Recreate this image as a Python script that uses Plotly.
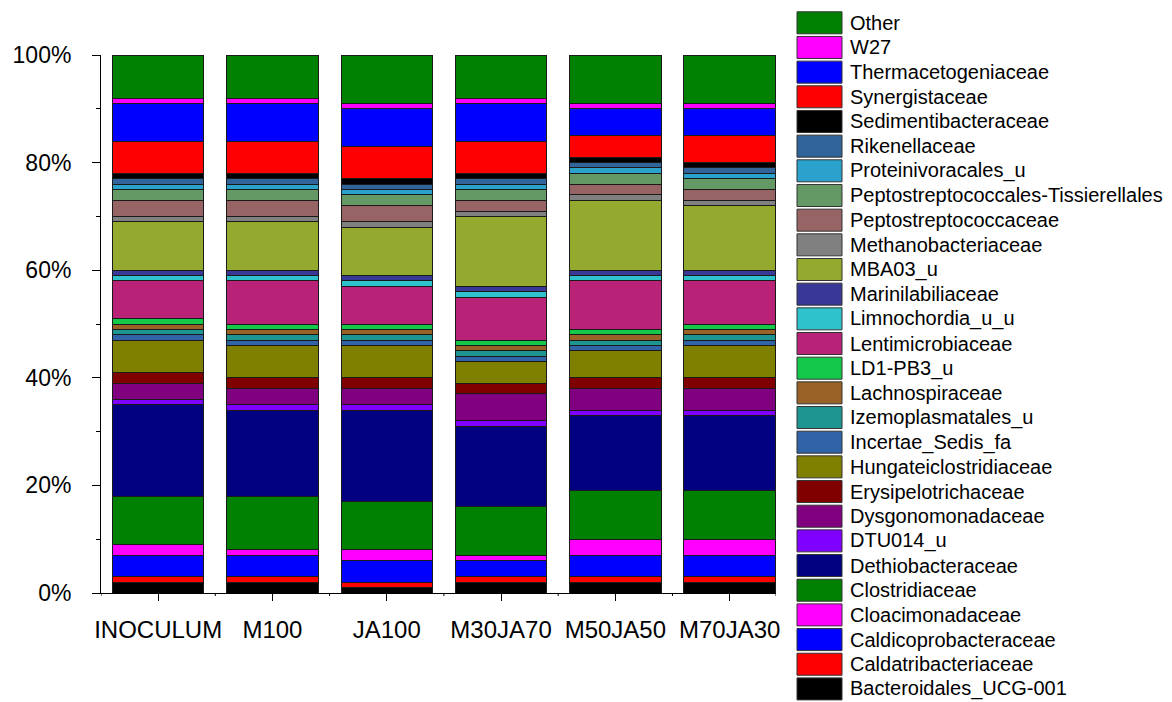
import plotly.graph_objects as go

# Samples (x categories)
samples = ["INOCULUM", "M100", "JA100", "M30JA70", "M50JA50", "M70JA30"]

# Families in stacking order (bottom -> top)
families = [
    "Bacteroidales_UCG-001", "Caldatribacteriaceae", "Caldicoprobacteraceae",
    "Cloacimonadaceae", "Clostridiaceae", "Dethiobacteraceae", "DTU014_u",
    "Dysgonomonadaceae", "Erysipelotrichaceae", "Hungateiclostridiaceae",
    "Incertae_Sedis_fa", "Izemoplasmatales_u", "Lachnospiraceae", "LD1-PB3_u",
    "Lentimicrobiaceae", "Limnochordia_u_u", "Marinilabiliaceae", "MBA03_u",
    "Methanobacteriaceae", "Peptostreptococcaceae",
    "Peptostreptococcales-Tissierellales", "Proteinivoracales_u",
    "Rikenellaceae", "Sedimentibacteraceae", "Synergistaceae",
    "Thermacetogeniaceae", "W27", "Other",
]

colors = [
    "#000000", "#FF0000", "#0000FF", "#FF00FF", "#008000", "#000080", "#8000FF",
    "#800080", "#800000", "#808000", "#3064A6", "#1F9592", "#996328", "#14C84A",
    "#B82378", "#2EC2CC", "#383896", "#94AA2F", "#808080", "#966464",
    "#649864", "#2AA2CC", "#30649A", "#000000", "#FF0000", "#0000FF",
    "#FF00FF", "#008000",
]

# Relative abundance (%) per sample, same order as `families`
inoculum = [2, 1, 4, 2, 9, 17, 1, 3, 2, 6, 1, 1, 1, 1, 7, 1, 1, 9, 1, 3, 2, 1, 1, 1, 6, 7, 1, 8]
m100     = [2, 1, 4, 1, 10, 16, 1, 3, 2, 6, 1, 1, 1, 1, 8, 1, 1, 9, 1, 3, 2, 1, 1, 1, 6, 7, 1, 8]
ja100    = [1, 1, 4, 2, 9, 17, 1, 3, 2, 6, 1, 1, 1, 1, 7, 1, 1, 9, 1, 3, 2, 1, 1, 1, 6, 7, 1, 9]
m30ja70  = [2, 1, 3, 1, 9, 15, 1, 5, 2, 4, 1, 1, 1, 1, 8, 1, 1, 13, 1, 2, 2, 1, 1, 1, 6, 7, 1, 8]
m50ja50  = [2, 1, 4, 3, 9, 14, 1, 4, 2, 5, 1, 1, 1, 1, 9, 1, 1, 13, 1, 2, 2, 1, 1, 1, 4, 5, 1, 9]
m70ja30  = [2, 1, 4, 3, 9, 14, 1, 4, 2, 6, 1, 1, 1, 1, 8, 1, 1, 12, 1, 2, 2, 1, 1, 1, 5, 5, 1, 9]

y_ticks = [0, 20, 40, 60, 80, 100]
y_tick_labels = ["0%", "20%", "40%", "60%", "80%", "100%"]

sample_values = [inoculum, m100, ja100, m30ja70, m50ja50, m70ja30]

FONT = "Arial, Liberation Sans, Helvetica, sans-serif"
W, H = 1172, 702
L, R, T, B = 101, 396, 55, 109          # plot area margins (px)
PW, PH = W - L - R, H - T - B

fig = go.Figure()
for i, fam in enumerate(families):
    fig.add_trace(go.Bar(
        x=samples,
        y=[vals[i] for vals in sample_values],
        name=fam,
        width=0.8,
        marker=dict(color=colors[i], line=dict(color="#1a1a1a", width=1)),
        showlegend=False,
    ))


def px_x(px):
    return (px - L) / PW


def px_y(py):
    return (H - B - py) / PH


shapes = []
annotations = []

# short ticks at category boundaries on the x axis
x_end = -0.5 + 675 / 114.3
for xb in [k - 0.5 for k in range(6)] + [x_end]:
    shapes.append(dict(type="line", xref="x", yref="paper", x0=xb, x1=xb,
                       y0=0, y1=-3 / PH, line=dict(color="black", width=1)))

# legend: top row is the last stacked family
row0, pitch = 22.8, 24.67
for r, idx in enumerate(range(len(families) - 1, -1, -1)):
    cy = row0 + pitch * r
    shapes.append(dict(type="rect", xref="paper", yref="paper",
                       x0=px_x(797), x1=px_x(842),
                       y0=px_y(cy + 11), y1=px_y(cy - 11),
                       fillcolor=colors[idx], line=dict(color="#333333", width=1)))
    annotations.append(dict(xref="paper", yref="paper", x=px_x(848), y=px_y(cy),
                            xanchor="left", yanchor="middle", showarrow=False,
                            text=families[idx],
                            font=dict(family=FONT, size=20, color="black")))

fig.update_layout(
    barmode="stack",
    width=W, height=H,
    margin=dict(l=L, r=R, t=T, b=B, pad=0),
    plot_bgcolor="white", paper_bgcolor="white",
    font=dict(family=FONT, color="black"),
    shapes=shapes,
    annotations=annotations,
    xaxis=dict(
        type="category", range=[-0.5, x_end],
        showline=True, linecolor="black", linewidth=1,
        ticks="outside", ticklen=7, tickcolor="black",
        tickfont=dict(family=FONT, size=24, color="black"),
        ticklabelstandoff=8,
        showgrid=False, zeroline=False, fixedrange=True,
    ),
    yaxis=dict(
        range=[0, 100], tickvals=y_ticks, ticktext=y_tick_labels,
        showline=True, linecolor="black", linewidth=1,
        ticks="outside", ticklen=8, tickcolor="black",
        minor=dict(ticks="outside", ticklen=4, dtick=10, tickcolor="black"),
        tickfont=dict(family=FONT, size=23, color="black"),
        ticklabelstandoff=16,
        showgrid=False, zeroline=False, fixedrange=True,
    ),
)

fig.write_html("out.html")
